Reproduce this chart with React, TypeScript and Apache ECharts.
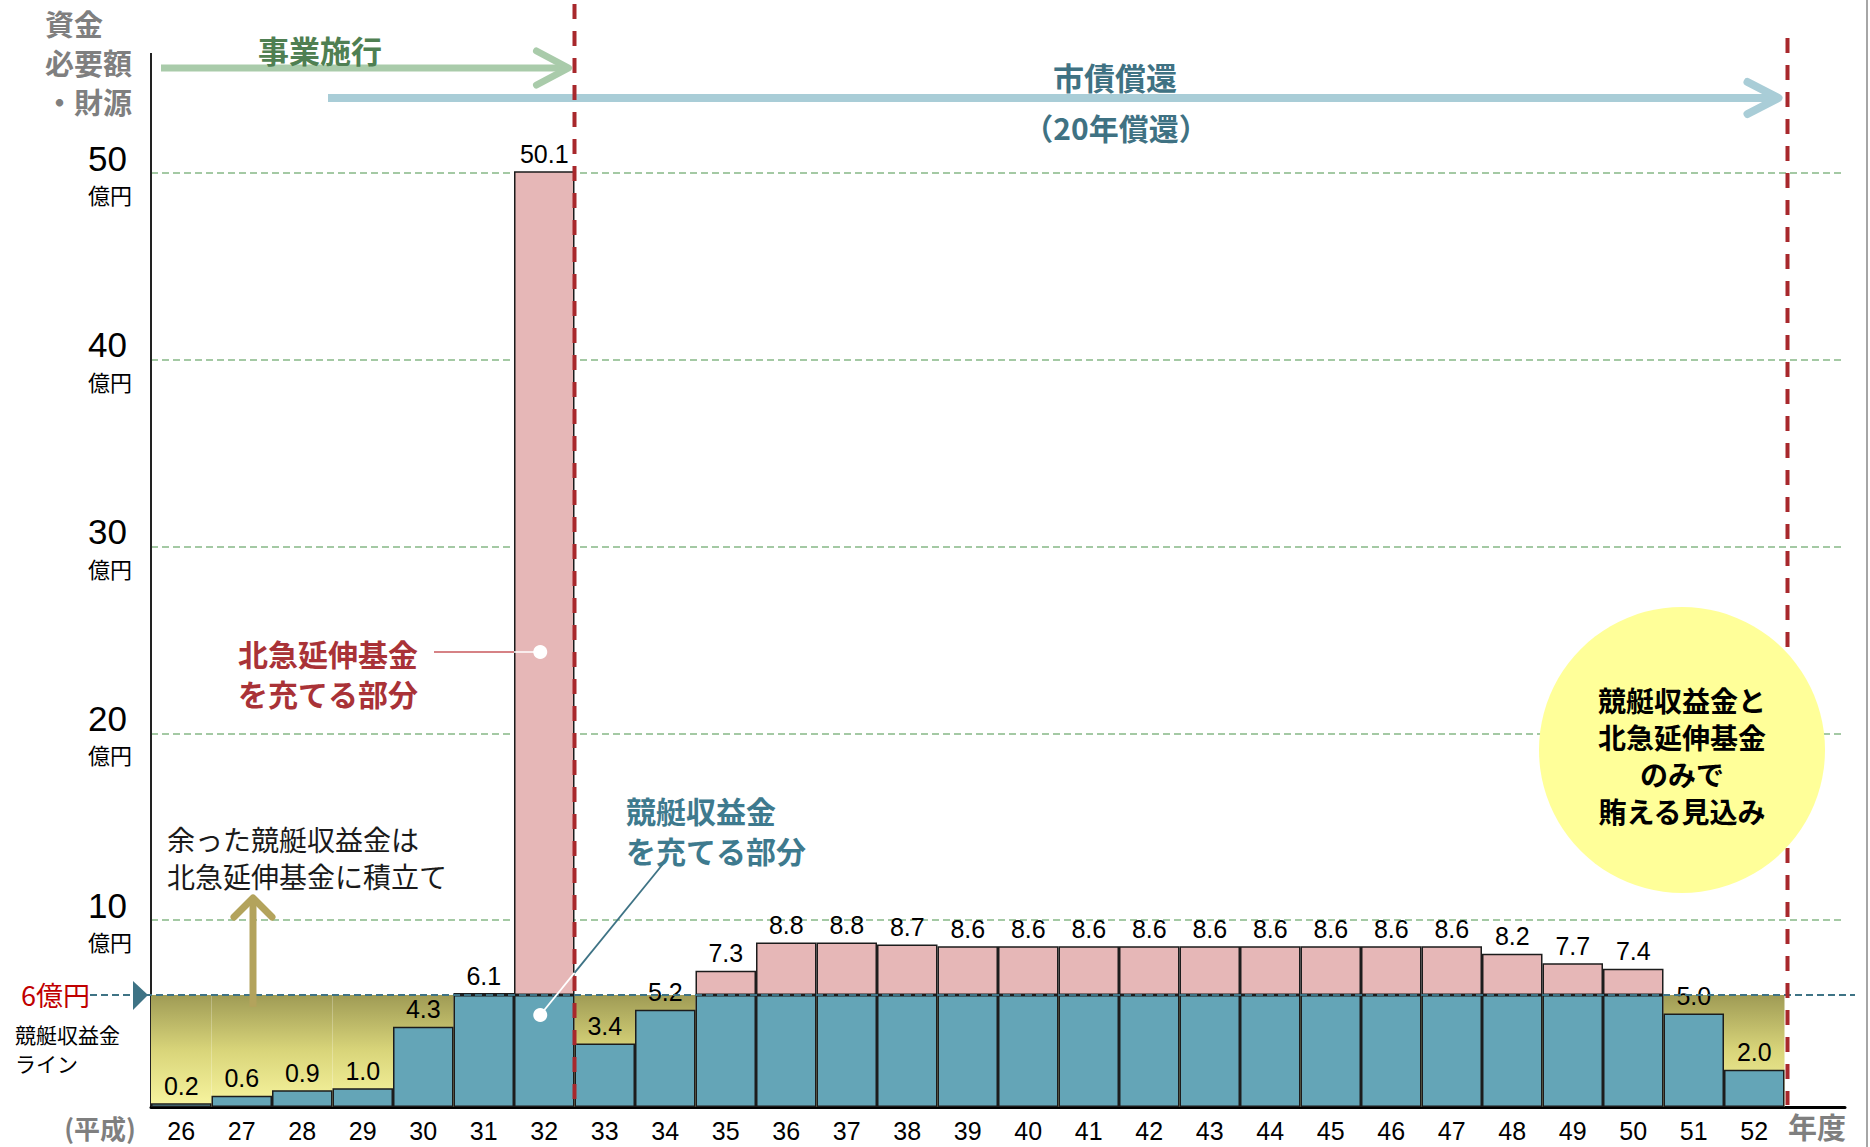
import React, { useEffect, useRef } from 'react';
import * as echarts from 'echarts';

// ---- data (平成 年度, 億円) ----
const years = ['26', '27', '28', '29', '30', '31', '32', '33', '34', '35', '36', '37', '38', '39', '40', '41', '42', '43', '44', '45', '46', '47', '48', '49', '50', '51', '52'];
const totals = [0.2, 0.6, 0.9, 1.0, 4.3, 6.1, 50.1, 3.4, 5.2, 7.3, 8.8, 8.8, 8.7, 8.6, 8.6, 8.6, 8.6, 8.6, 8.6, 8.6, 8.6, 8.6, 8.2, 7.7, 7.4, 5.0, 2.0];
const boatLine = 6; // 競艇収益金ライン (億円)
const yTickValues = [10, 20, 30, 40, 50];
const yUnit = '億円';

const FONT_JP = '"Noto Sans CJK JP", "Noto Sans", sans-serif';
const FONT_NUM = '"Liberation Sans", Arial, sans-serif';
const FONT_NARROW = '"Liberation Sans Narrow", "Arial Narrow", "Liberation Sans", sans-serif';

const BLUE = '#64A5B7';
const PINK = '#E6B7B7';
const EDGE = '#1c1c1c';

export default function App() {
  const ref = useRef<HTMLDivElement>(null);

  useEffect(() => {
    document.body.style.margin = '0';
    document.body.style.overflow = 'hidden';
    const chart = echarts.init(ref.current!, null, { renderer: 'svg' });

    const categories = [...years, ''];
    const labelFmt = (p: any) => totals[p.dataIndex].toFixed(1);
    const dataLabel = {
      position: 'top',
      distance: 5,
      color: '#000',
      fontSize: 25,
      fontFamily: FONT_NARROW,
      formatter: labelFmt,
    };
    const boatData = totals.map((v) => ({ value: Math.min(v, boatLine), label: { show: v <= boatLine } }));
    const fundData = totals.map((v) => (v > boatLine ? { value: +(v - boatLine).toFixed(1), label: { show: true } } : '-'));
    const bgData = totals.map(() => boatLine);

    chart.setOption({
      animation: false,
      grid: { left: 151, right: 25, top: 173, bottom: 40, containLabel: false, outerBoundsMode: 'none' },
      xAxis: {
        type: 'category',
        data: categories,
        boundaryGap: true,
        axisTick: { show: false },
        axisLine: { show: true, lineStyle: { color: '#000', width: 3 } },
        axisLabel: {
          margin: 11,
          color: '#000',
          fontSize: 25,
          fontFamily: FONT_NARROW,
          interval: 0,
        },
        splitLine: { show: false },
      },
      yAxis: {
        type: 'value',
        min: 0,
        max: 50,
        interval: 10,
        axisTick: { show: false },
        axisLine: { show: true, lineStyle: { color: '#222', width: 2 } },
        splitLine: { show: true, lineStyle: { color: '#86B886', type: [7, 4], width: 1.5 } },
        axisLabel: {
          margin: 63,
          align: 'left',
          formatter: (v: number) => (yTickValues.includes(v) ? `{n|${v}}\n{u|${yUnit}}` : ''),
          rich: {
            n: { fontSize: 35, fontFamily: FONT_NUM, color: '#000', lineHeight: 42 },
            u: { fontSize: 22, fontFamily: FONT_JP, color: '#000', lineHeight: 30 },
          },
        },
      },
      series: [
        {
          name: 'line-bg',
          type: 'bar',
          data: bgData,
          barGap: '-100%',
          barCategoryGap: '0%',
          silent: true,
          z: 1,
          itemStyle: {
            color: new echarts.graphic.LinearGradient(0, 0, 0, 1, [
              { offset: 0, color: '#9F9B55' },
              { offset: 0.5, color: '#D9D57A' },
              { offset: 1, color: '#F8F5A0' },
            ]),
          },
        },
        {
          name: '競艇収益金',
          type: 'bar',
          stack: 'total',
          data: boatData,
          barGap: '-100%',
          barCategoryGap: '0%',
          z: 2,
          itemStyle: { color: BLUE, borderColor: EDGE, borderWidth: 1.5 },
          label: dataLabel,
        },
        {
          name: '北急延伸基金',
          type: 'bar',
          stack: 'total',
          data: fundData,
          barGap: '-100%',
          barCategoryGap: '0%',
          z: 2,
          clip: false,
          itemStyle: { color: PINK, borderColor: EDGE, borderWidth: 1.5 },
          label: dataLabel,
        },
      ],
    });

    const X = (i: number) => chart.convertToPixel({ xAxisIndex: 0 }, i) as number;
    const Y = (v: number) => chart.convertToPixel({ yAxisIndex: 0 }, v) as number;
    const bw = X(1) - X(0);
    const x0 = X(0) - bw / 2;
    const yBase = Y(0);
    const yTop = Y(50);
    const y6 = Y(boatLine);
    const xSplit = X(6) + bw / 2; // 32 | 33
    const xEnd = X(26) + bw / 2 + 3; // after 52
    const xRight = X(27) + bw / 2;

    const txt = (text: string, x: number, y: number, o: any = {}) => ({
      type: 'text',
      x,
      y,
      z: o.z || 60,
      style: {
        text,
        fill: o.fill || '#000',
        fontSize: o.fontSize || 24,
        fontWeight: o.fontWeight || 'normal',
        fontFamily: o.fontFamily || FONT_JP,
        align: o.align || 'left',
        verticalAlign: 'middle',
      },
    });
    // one text element per line, line centres given
    const lines = (rows: string[], x: number, yFirst: number, step: number, o: any = {}) =>
      rows.map((r, i) => txt(r, x, yFirst + i * step, o));

    const dotX = X(6) - 4;
    const tealA = [663, 864];
    const tealDot = [dotX, 1015];
    const tCross = (tealA[0] - xSplit) / (tealA[0] - tealDot[0]);
    const tealCrossY = tealA[1] + tCross * (tealDot[1] - tealA[1]);

    const elements: any[] = [
      // y-axis extension
      { type: 'line', z: 30, shape: { x1: x0, y1: 53, x2: x0, y2: yTop }, style: { stroke: '#222', lineWidth: 2 } },
      // right frame line
      { type: 'line', z: 30, shape: { x1: 1867, y1: 0, x2: 1867, y2: 1147 }, style: { stroke: '#A6A6A6', lineWidth: 2 } },
      // axis title
      ...lines(['資金', '必要額', '・財源'], 45, 23, 39, { fill: '#7F7F7F', fontSize: 29, fontWeight: 'bold' }),
      // 事業施行 arrow
      { type: 'line', z: 30, shape: { x1: x0 + 10, y1: 68, x2: xSplit - 8, y2: 68 }, style: { stroke: '#A9CBAA', lineWidth: 7 } },
      { type: 'polyline', z: 30, shape: { points: [[xSplit - 38, 51], [xSplit - 6, 68], [xSplit - 38, 85]] }, style: { stroke: '#A9CBAA', lineWidth: 7, lineCap: 'round', lineJoin: 'round', fill: null } },
      txt('事業施行', 320, 49, { fill: '#4F7F52', fontSize: 31, fontWeight: 'bold', align: 'center' }),
      // 市債償還 arrow
      { type: 'line', z: 30, shape: { x1: 328, y1: 98, x2: xEnd - 12, y2: 98 }, style: { stroke: '#A9CDD7', lineWidth: 8 } },
      { type: 'polyline', z: 30, shape: { points: [[xEnd - 40, 82], [xEnd - 9, 98], [xEnd - 40, 114]] }, style: { stroke: '#A9CDD7', lineWidth: 8, lineCap: 'round', lineJoin: 'round', fill: null } },
      txt('市債償還', 1115, 76, { fill: '#3F7283', fontSize: 31, fontWeight: 'bold', align: 'center' }),
      txt('（20年償還）', 1116, 127, { fill: '#3F7283', fontSize: 30, fontWeight: 'bold', align: 'center' }),
      // red dashed verticals
      { type: 'line', z: 40, shape: { x1: xSplit, y1: 4, x2: xSplit, y2: yBase - 2 }, style: { stroke: '#A8282C', lineWidth: 4, lineDash: [15, 12] } },
      { type: 'line', z: 40, shape: { x1: xEnd, y1: 38, x2: xEnd, y2: yBase - 2 }, style: { stroke: '#A8282C', lineWidth: 4, lineDash: [15, 12] } },
      // 6億円 line
      { type: 'line', z: 35, shape: { x1: 90, y1: y6, x2: xRight + 10, y2: y6 }, style: { stroke: '#3E7385', lineWidth: 2, lineDash: [7, 4] } },
      { type: 'polygon', z: 36, shape: { points: [[133, y6 - 14], [148, y6], [133, y6 + 15]] }, style: { fill: '#3E7385' } },
      txt('6億円', 90, y6, { fill: '#C00000', fontSize: 27, align: 'right' }),
      ...lines(['競艇収益金', 'ライン'], 15, y6 + 39, 29, { fontSize: 21 }),
      // axis end labels
      txt('(平成)', 100, 1127, { fill: '#7F7F7F', fontSize: 26, fontWeight: 'bold', align: 'center' }),
      txt('年度', 1788, 1126, { fill: '#7F7F7F', fontSize: 29, fontWeight: 'bold' }),
      // surplus note + olive arrow
      ...lines(['余った競艇収益金は', '北急延伸基金に積立て'], 167, 839, 37, { fill: '#1a1a1a', fontSize: 28 }),
      { type: 'line', z: 45, shape: { x1: 253, y1: y6 + 12, x2: 253, y2: 900 }, style: { stroke: '#B3A35C', lineWidth: 7 } },
      { type: 'polyline', z: 45, shape: { points: [[234, 917], [253, 898], [272, 917]] }, style: { stroke: '#B3A35C', lineWidth: 7, lineCap: 'round', lineJoin: 'round', fill: null } },
      // 北急延伸基金 annotation
      ...lines(['北急延伸基金', 'を充てる部分'], 238, 653, 40, { fill: '#A93237', fontSize: 30, fontWeight: 'bold' }),
      { type: 'line', z: 45, shape: { x1: 434, y1: 652, x2: X(6) - bw / 2, y2: 652 }, style: { stroke: '#C9585C', lineWidth: 1.5 } },
      { type: 'line', z: 45, shape: { x1: X(6) - bw / 2, y1: 652, x2: dotX, y2: 652 }, style: { stroke: '#fff', lineWidth: 1.5 } },
      { type: 'circle', z: 46, shape: { cx: dotX, cy: 652, r: 7 }, style: { fill: '#fff' } },
      // 競艇収益金 annotation
      ...lines(['競艇収益金', 'を充てる部分'], 626, 810, 40, { fill: '#3E7A8E', fontSize: 30, fontWeight: 'bold' }),
      { type: 'line', z: 45, shape: { x1: tealA[0], y1: tealA[1], x2: xSplit, y2: tealCrossY }, style: { stroke: '#3E7385', lineWidth: 1.8 } },
      { type: 'line', z: 45, shape: { x1: xSplit, y1: tealCrossY, x2: tealDot[0], y2: tealDot[1] }, style: { stroke: '#fff', lineWidth: 1.8 } },
      { type: 'circle', z: 46, shape: { cx: tealDot[0], cy: tealDot[1], r: 7 }, style: { fill: '#fff' } },
      // yellow circle
      { type: 'circle', z: 50, shape: { cx: 1682, cy: 750, r: 143 }, style: { fill: '#FFFF99' } },
      ...lines(['競艇収益金と', '北急延伸基金', 'のみで', '賄える見込み'], 1682, 700, 37, { fontSize: 28, fontWeight: 'bold', align: 'center', z: 51 }),
    ];

    chart.setOption({ graphic: { elements } });

    return () => chart.dispose();
  }, []);

  return <div ref={ref} style={{ width: 1870, height: 1147 }} />;
}
